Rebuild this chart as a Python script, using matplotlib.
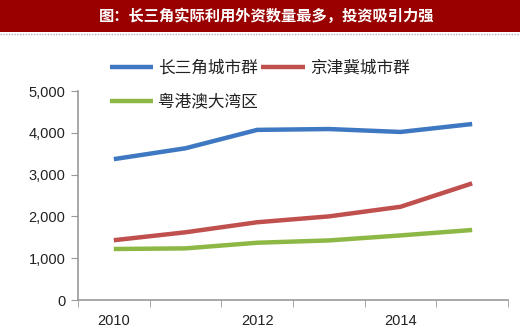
import matplotlib.pyplot as plt
from matplotlib.patches import Rectangle
from matplotlib.lines import Line2D

plt.rcParams['font.family'] = ['Noto Sans CJK SC', 'DejaVu Sans']

years = ['2010', '2011', '2012', '2013', '2014', '2015']
yrd = [3370, 3630, 4070, 4090, 4020, 4210]      # 长三角城市群
jjj = [1430, 1620, 1860, 2000, 2230, 2790]      # 京津冀城市群
gba = [1220, 1235, 1370, 1425, 1545, 1675]      # 粤港澳大湾区
series_names = ['长三角城市群', '京津冀城市群', '粤港澳大湾区']
colors = ['#3F78C2', '#C0504D', '#8DB846']
title = '图：长三角实际利用外资数量最多，投资吸引力强'

fig = plt.figure(figsize=(5.2, 3.32), dpi=100)

# header banner
fig.patches.append(Rectangle((0, 1 - 32 / 332), 1, 32 / 332, transform=fig.transFigure,
                             facecolor='#990000', edgecolor='none', zorder=0))
fig.add_artist(Line2D([0, 1], [1 - 33.5 / 332] * 2, transform=fig.transFigure,
                      color='#B8B0C8', lw=1, ls=(0, (1, 1))))
fig.text(0.513, 1 - 16 / 332, title, color='white', fontsize=11, fontweight='bold',
         ha='center', va='center')

ax = fig.add_axes([78 / 520, 1 - 300 / 332, 430 / 520, 209 / 332])
x = list(range(len(years)))
lines = []
for vals, name, c in zip([yrd, jjj, gba], series_names, colors):
    ln, = ax.plot(x, vals, color=c, lw=3.2, label=name, solid_capstyle='butt')
    lines.append(ln)

ax.set_xlim(-0.5, len(years) - 0.5)
ax.set_ylim(0, 5000)
ax.set_yticks(range(0, 5001, 1000))
ax.set_yticklabels([f'{v:,}' for v in range(0, 5001, 1000)])
ax.set_xticks([0, 2, 4])
ax.set_xticklabels([years[i] for i in [0, 2, 4]])
ax.set_xticks([i - 0.5 for i in range(len(years) + 1)], minor=True)
ax.tick_params(axis='x', which='major', length=0, pad=10)
ax.tick_params(axis='x', which='minor', length=5, color='#999999')
ax.tick_params(axis='y', length=5, color='#999999', pad=4)
ax.tick_params(labelsize=10.5, labelcolor='#222222')
for lbl in ax.get_xticklabels() + ax.get_yticklabels():
    lbl.set_family('Liberation Sans')
for s in ['top', 'right']:
    ax.spines[s].set_visible(False)
for s in ['left', 'bottom']:
    ax.spines[s].set_color('#999999')
    ax.spines[s].set_linewidth(1.2)

ax.legend([lines[0], lines[2], lines[1]],
          [series_names[0], series_names[2], series_names[1]],
          ncol=2, loc='upper left', bbox_to_anchor=(110 / 520, 1 - 60 / 332),
          bbox_transform=fig.transFigure, frameon=False, fontsize=12,
          handlelength=2.6, handletextpad=0.3, columnspacing=0.2,
          labelspacing=1.0, borderpad=0, borderaxespad=0, labelcolor='#222222')

fig.savefig('out.png', dpi=100)
